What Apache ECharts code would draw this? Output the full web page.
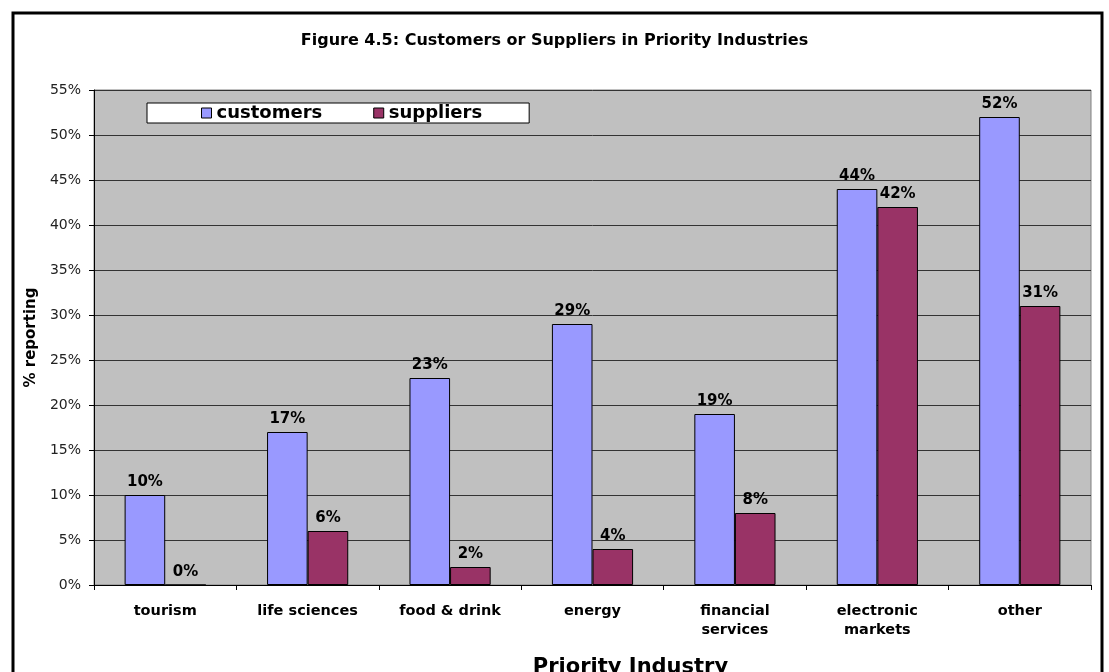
<!DOCTYPE html>
<html>
<head>
<meta charset="utf-8">
<title>Figure 4.5</title>
<script src="https://cdn.jsdelivr.net/npm/echarts@6/dist/echarts.min.js"></script>
<style>
  html, body { margin: 0; padding: 0; background: #fff; }
  #chart { width: 1109px; height: 672px; }
</style>
</head>
<body>
<div id="chart"></div>
<script>
// categories and values (percent reporting)
var industries = ['tourism', 'life sciences', 'food & drink', 'energy', 'financial\nservices', 'electronic\nmarkets', 'other'];
var customers = [10, 17, 23, 29, 19, 44, 52];
var suppliers = [0, 6, 2, 4, 8, 42, 31];

var font = 'DejaVu Sans, Verdana, sans-serif';

var chart = echarts.init(document.getElementById('chart'));

var labelStyle = {
  show: true,
  position: 'top',
  distance: 5,
  formatter: '{c}%',
  color: '#000',
  fontFamily: font,
  fontWeight: 'bold',
  fontSize: 15
};

chart.setOption({
  animation: false,
  title: {
    text: 'Figure 4.5: Customers or Suppliers in Priority Industries',
    left: 'center',
    top: 28,
    textStyle: { fontFamily: font, fontWeight: 'bold', fontSize: 16, color: '#000' }
  },
  graphic: [{
    type: 'rect',
    shape: { x: 13, y: 13, width: 1089, height: 700 },
    style: { fill: 'none', stroke: '#000', lineWidth: 3 },
    z: 100
  }],
  legend: {
    data: ['customers', 'suppliers'],
    left: 147,
    top: 103,
    padding: [1, 47, 1, 54],
    itemGap: 51,
    itemWidth: 10,
    itemHeight: 10,
    icon: 'rect',
    backgroundColor: '#fff',
    borderColor: '#000',
    borderWidth: 1,
    borderRadius: 0,
    textStyle: { fontFamily: font, fontWeight: 'bold', fontSize: 18, color: '#000' },
    itemStyle: { borderColor: '#000', borderWidth: 1 }
  },
  grid: {
    left: 94, top: 90, right: 18, bottom: 87,
    outerBoundsMode: 'none',
    containLabel: false,
    show: true,
    backgroundColor: '#C0C0C0',
    borderColor: '#808080',
    borderWidth: 1
  },
  xAxis: {
    type: 'category',
    data: industries,
    name: 'Priority Industry',
    nameLocation: 'middle',
    nameGap: 72,
    nameTextStyle: { fontFamily: font, fontWeight: 'bold', fontSize: 21, color: '#000', padding: [0, 0, 0, 76] },
    axisLine: { lineStyle: { color: '#000', width: 1 } },
    axisTick: { show: true, length: 5, alignWithLabel: false, lineStyle: { color: '#000' } },
    axisLabel: { fontFamily: font, fontWeight: 'bold', fontSize: 14.5, color: '#000', margin: 17, lineHeight: 19 }
  },
  yAxis: {
    type: 'value',
    min: 0,
    max: 55,
    interval: 5,
    name: '% reporting',
    nameLocation: 'middle',
    nameGap: 49,
    nameTextStyle: { fontFamily: font, fontWeight: 'bold', fontSize: 15, color: '#000' },
    axisLine: { show: true, lineStyle: { color: '#000', width: 1 } },
    axisTick: { show: true, length: 5, lineStyle: { color: '#000' } },
    axisLabel: { formatter: '{value}%', fontFamily: font, fontSize: 14, color: '#222', margin: 13 },
    splitLine: { show: true, lineStyle: { color: '#333', width: 1 } }
  },
  series: [{
    name: 'customers',
    type: 'bar',
    data: customers,
    barGap: '0%',
    barCategoryGap: '43%',
    itemStyle: { color: '#9999FF', borderColor: '#000', borderWidth: 1 },
    label: labelStyle
  }, {
    name: 'suppliers',
    type: 'bar',
    data: suppliers,
    itemStyle: { color: '#993366', borderColor: '#000', borderWidth: 1 },
    label: labelStyle
  }]
});
</script>
</body>
</html>
